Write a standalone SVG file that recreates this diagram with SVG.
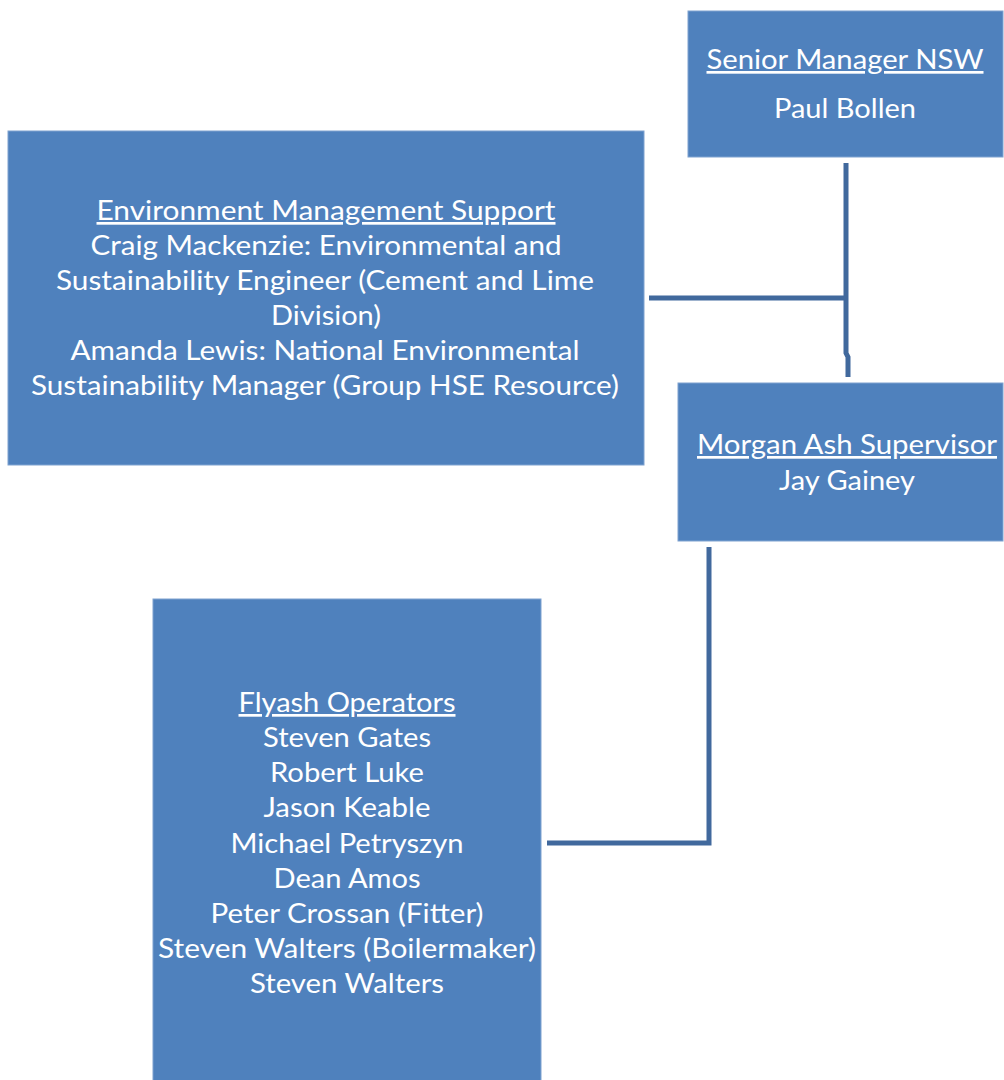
<svg xmlns="http://www.w3.org/2000/svg" width="1004" height="1080" viewBox="0 0 1004 1080">
<style>
.box{fill:#4F81BD;stroke:#7FA2D0;stroke-width:1}
.t{fill:#FFFFFF;font-family:Lato,"Open Sans","Liberation Sans",sans-serif;font-size:27px;text-anchor:middle}
.u{text-decoration:underline}
.c{fill:none;stroke:#41699D;stroke-width:5}
</style>
<rect width="1004" height="1080" fill="#FFFFFF"/>
<g id="connectors">
<path class="c" d="M846 163 V353 L848 357 V377"/>
<path class="c" d="M649 298 H846"/>
<path class="c" d="M709 547 V843 H547"/>
</g>
<g id="senior">
<rect class="box" x="688" y="11" width="315" height="146"/>
<text class="t u" x="845" y="69" textLength="277" lengthAdjust="spacingAndGlyphs">Senior Manager NSW</text>
<text class="t" x="845" y="118" textLength="142" lengthAdjust="spacingAndGlyphs">Paul Bollen</text>
</g>
<g id="env">
<rect class="box" x="8" y="131" width="636" height="334"/>
<text class="t u" x="326" y="220" textLength="459" lengthAdjust="spacingAndGlyphs">Environment Management Support</text>
<text class="t" x="326" y="255" textLength="471" lengthAdjust="spacingAndGlyphs">Craig Mackenzie: Environmental and</text>
<text class="t" x="325" y="290" textLength="538" lengthAdjust="spacingAndGlyphs">Sustainability Engineer (Cement and Lime</text>
<text class="t" x="326" y="325" textLength="110" lengthAdjust="spacingAndGlyphs">Division)</text>
<text class="t" x="325" y="360" textLength="509" lengthAdjust="spacingAndGlyphs">Amanda Lewis: National Environmental</text>
<text class="t" x="325" y="395" textLength="588" lengthAdjust="spacingAndGlyphs">Sustainability Manager (Group HSE Resource)</text>
</g>
<g id="morgan">
<rect class="box" x="678" y="383" width="325" height="158"/>
<text class="t u" x="847" y="454" textLength="300" lengthAdjust="spacingAndGlyphs">Morgan Ash Supervisor</text>
<text class="t" x="847" y="490" textLength="136" lengthAdjust="spacingAndGlyphs">Jay Gainey</text>
</g>
<g id="flyash">
<rect class="box" x="153" y="599" width="388" height="482"/>
<text class="t u" x="347" y="712" textLength="217" lengthAdjust="spacingAndGlyphs">Flyash Operators</text>
<text class="t" x="347" y="747" textLength="168" lengthAdjust="spacingAndGlyphs">Steven Gates</text>
<text class="t" x="347" y="782" textLength="154" lengthAdjust="spacingAndGlyphs">Robert Luke</text>
<text class="t" x="347" y="817" textLength="167" lengthAdjust="spacingAndGlyphs">Jason Keable</text>
<text class="t" x="347" y="853" textLength="233" lengthAdjust="spacingAndGlyphs">Michael Petryszyn</text>
<text class="t" x="347" y="888" textLength="147" lengthAdjust="spacingAndGlyphs">Dean Amos</text>
<text class="t" x="347" y="923" textLength="273" lengthAdjust="spacingAndGlyphs">Peter Crossan (Fitter)</text>
<text class="t" x="347" y="958" textLength="378" lengthAdjust="spacingAndGlyphs">Steven Walters (Boilermaker)</text>
<text class="t" x="347" y="993" textLength="194" lengthAdjust="spacingAndGlyphs">Steven Walters</text>
</g>
</svg>
